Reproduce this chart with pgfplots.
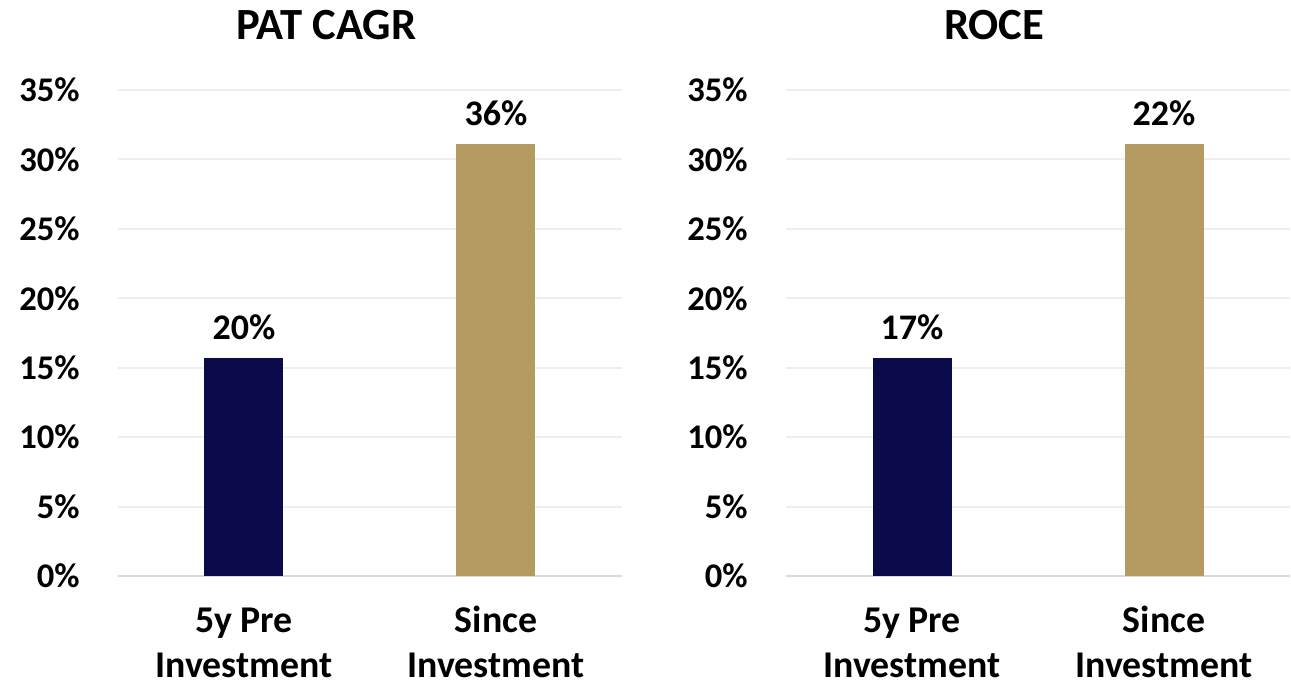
\documentclass[border=0pt]{standalone}
\usepackage{pgfplots}
\pgfplotsset{compat=1.18}
\usepackage{fontspec}
\setmainfont{Carlito}

\definecolor{navy}{HTML}{0B0A4A}
\definecolor{gold}{HTML}{B59A62}
\definecolor{gridc}{HTML}{EEEEEE}
\definecolor{basec}{HTML}{D9D9D9}

\pgfplotsset{
  panel/.style={
    scale only axis,
    width=252pt, height=243pt,
    xmin=-0.5, xmax=1.5, ymin=0, ymax=35,
    axis line style={draw=none},
    major tick length=0pt,
    ytick={0,5,...,35},
    yticklabels={0\%,5\%,10\%,15\%,20\%,25\%,30\%,35\%},
    yticklabel style={font=\bfseries\fontsize{17.3}{20}\selectfont, inner sep=0pt, xshift=-19pt},
    ymajorgrids=true,
    major grid style={draw=gridc, line width=1pt},
    extra y ticks={0},
    extra y tick labels={},
    extra y tick style={grid=major, major grid style={draw=basec, line width=1.2pt}},
    xtick={0,1},
    xticklabels={{\strut 5y Pre\\\strut Investment},{\strut Since\\\strut Investment}},
    xticklabel style={align=center, font=\bfseries\fontsize{18.9}{22.5}\selectfont, inner sep=0pt, yshift=-12.5pt},
    title style={at={(axis description cs:0.413,1)}, anchor=center, yshift=26.5pt,
      font=\bfseries\fontsize{22.3}{26}\selectfont},
    ybar, bar width=39.5pt,
    point meta=explicit symbolic,
    nodes near coords,
    every node near coord/.append style={font=\bfseries\fontsize{18}{22}\selectfont,
      anchor=south, inner sep=0pt, yshift=9pt, text=black},
  }
}

\begin{document}
\begin{tikzpicture}
\useasboundingbox (-59pt,-54pt) rectangle (586.5pt,288pt);
\begin{axis}[panel, at={(0pt,0pt)}, title={PAT CAGR}]
  \addplot[fill=navy, draw=none, bar shift=0pt] coordinates {(0,15.7) [20\%]};
  \addplot[fill=gold, draw=none, bar shift=0pt] coordinates {(1,31.1) [36\%]};
\end{axis}
\begin{axis}[panel, at={(334pt,0pt)}, title={ROCE}]
  \addplot[fill=navy, draw=none, bar shift=0pt] coordinates {(0,15.7) [17\%]};
  \addplot[fill=gold, draw=none, bar shift=0pt] coordinates {(1,31.1) [22\%]};
\end{axis}
\end{tikzpicture}
\end{document}
